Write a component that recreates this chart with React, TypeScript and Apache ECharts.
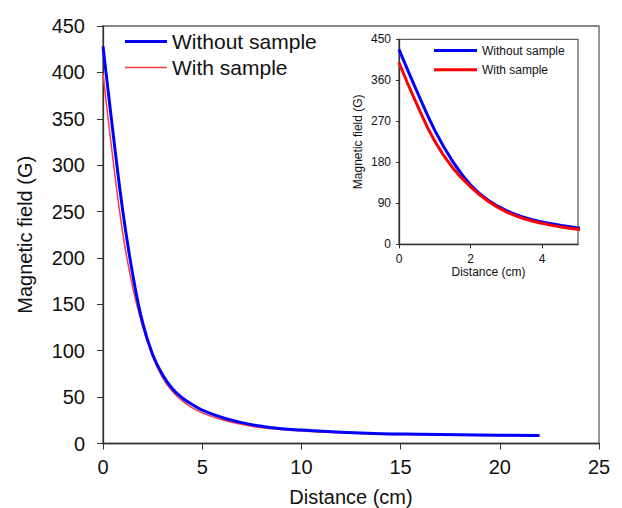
import React, { useEffect, useRef } from "react";
import * as echarts from "echarts";

const distances = [0, 0.5, 1, 1.5, 2, 2.5, 3, 3.5, 4, 4.5, 5, 6, 7, 8, 9, 10, 12, 14, 16, 18, 20, 22];
const withoutSample = [428, 336, 250, 182, 130, 96, 74, 59, 49, 42, 36, 28, 22.5, 18.5, 16, 14.5, 12, 10.5, 10, 9.5, 9, 8.5];
const withSample = [399, 307, 226, 168, 126, 94, 71, 56, 46, 38.5, 33, 25.5, 20.5, 17, 15, 13.5, 11.5, 10, 9.5, 9, 8.5, 8];

const mainXTicks = { min: 0, max: 25, interval: 5 };
const mainYTicks = { min: 0, max: 450, interval: 50 };
const insetXTicks = { min: 0, max: 5, interval: 2 };
const insetYTicks = { min: 0, max: 450, interval: 90 };

const FONT = "'Liberation Sans', Arial, sans-serif";

export default function App() {
  const ref = useRef<HTMLDivElement>(null);
  useEffect(() => {
    if (!ref.current) return;
    const chart = echarts.init(ref.current, null, { renderer: "svg" });
    const blueData = distances.map((x, i) => [x, withoutSample[i]]);
    const redData = distances.map((x, i) => [x, withSample[i]]);
    const axisLine = { show: true, lineStyle: { color: "#303030", width: 1.3 } };
    const smoothing = { smooth: 0.45 };
    chart.setOption({
      animation: false,
      backgroundColor: "#ffffff",
      textStyle: { fontFamily: FONT },
      grid: [
        { left: 103, top: 26, width: 496, height: 417.5, show: true, borderColor: "#606060", borderWidth: 1.3, backgroundColor: "transparent", containLabel: false, outerBoundsMode: "none" },
        { left: 399, top: 39.3, width: 179, height: 205, show: true, borderColor: "#606060", borderWidth: 1.3, backgroundColor: "#ffffff", containLabel: false, outerBoundsMode: "none" },
      ],
      legend: [
        {
          orient: "vertical", left: 125, top: 31, itemWidth: 42, itemHeight: 20, itemGap: 5, padding: 0,
          data: [
            { name: "Without sample", icon: "path://M0,0 H42 V3 H0 Z" },
            { name: "With sample", icon: "path://M0,0 H42 V1.6 H0 Z" },
          ],
          textStyle: { fontSize: 21, color: "#111", fontFamily: FONT },
          selectedMode: false,
        },
        {
          orient: "vertical", left: 434, top: 44.5, itemWidth: 43, itemHeight: 12, itemGap: 7.3, padding: 0,
          data: [
            { name: "Without sample", icon: "path://M0,0 H43 V3 H0 Z" },
            { name: "With sample", icon: "path://M0,0 H43 V3 H0 Z", itemStyle: { color: "#ff0000" } },
          ],
          textStyle: { fontSize: 12, color: "#111", fontFamily: FONT },
          selectedMode: false,
        },
      ],
      xAxis: [
        {
          gridIndex: 0, type: "value", ...mainXTicks,
          name: "Distance (cm)", nameLocation: "middle", nameGap: 43,
          nameTextStyle: { fontSize: 20, color: "#111", fontFamily: FONT },
          axisLine, axisTick: { show: true, inside: false, length: 6, lineStyle: { color: "#303030" } },
          axisLabel: { fontSize: 20, color: "#111", margin: 13, fontFamily: FONT },
          splitLine: { show: false },
        },
        {
          gridIndex: 1, type: "value", ...insetXTicks,
          name: "Distance (cm)", nameLocation: "middle", nameGap: 22,
          nameTextStyle: { fontSize: 12, color: "#111", fontFamily: FONT },
          axisLine, axisTick: { show: true, inside: false, length: 4, lineStyle: { color: "#303030" } },
          axisLabel: { fontSize: 12, color: "#111", margin: 9, showMaxLabel: false, fontFamily: FONT },
          splitLine: { show: false },
        },
      ],
      yAxis: [
        {
          gridIndex: 0, type: "value", ...mainYTicks,
          name: "Magnetic field (G)", nameLocation: "middle", nameGap: 68,
          nameTextStyle: { fontSize: 20, color: "#111", fontFamily: FONT },
          axisLine, axisTick: { show: true, inside: false, length: 6, lineStyle: { color: "#303030" } },
          axisLabel: { fontSize: 20, color: "#111", margin: 18, fontFamily: FONT },
          splitLine: { show: false },
        },
        {
          gridIndex: 1, type: "value", ...insetYTicks,
          name: "Magnetic field (G)", nameLocation: "middle", nameGap: 35,
          nameTextStyle: { fontSize: 12, color: "#111", fontFamily: FONT },
          axisLine, axisTick: { show: true, inside: false, length: 3, lineStyle: { color: "#303030" } },
          axisLabel: { fontSize: 12, color: "#111", margin: 8, fontFamily: FONT },
          splitLine: { show: false },
        },
      ],
      series: [
        {
          name: "With sample", type: "line", xAxisIndex: 0, yAxisIndex: 0, data: redData, ...smoothing,
          symbol: "none", lineStyle: { color: "#ff3a3a", width: 1.5 }, itemStyle: { color: "#ff3a3a" },
        },
        {
          name: "Without sample", type: "line", xAxisIndex: 0, yAxisIndex: 0, data: blueData, ...smoothing,
          symbol: "none", lineStyle: { color: "#0000ff", width: 3 }, itemStyle: { color: "#0000ff" },
        },
        {
          name: "Without sample", type: "line", xAxisIndex: 1, yAxisIndex: 1, data: blueData, ...smoothing,
          symbol: "none", clip: true, lineStyle: { color: "#0000ff", width: 3 }, itemStyle: { color: "#0000ff" },
        },
        {
          name: "With sample", type: "line", xAxisIndex: 1, yAxisIndex: 1, data: redData, ...smoothing,
          symbol: "none", clip: true, lineStyle: { color: "#ff0000", width: 3 }, itemStyle: { color: "#ff0000" },
        },
      ],
    });
    return () => chart.dispose();
  }, []);
  return <div ref={ref} style={{ position: "fixed", left: 0, top: 0, width: 622, height: 508 }} />;
}
